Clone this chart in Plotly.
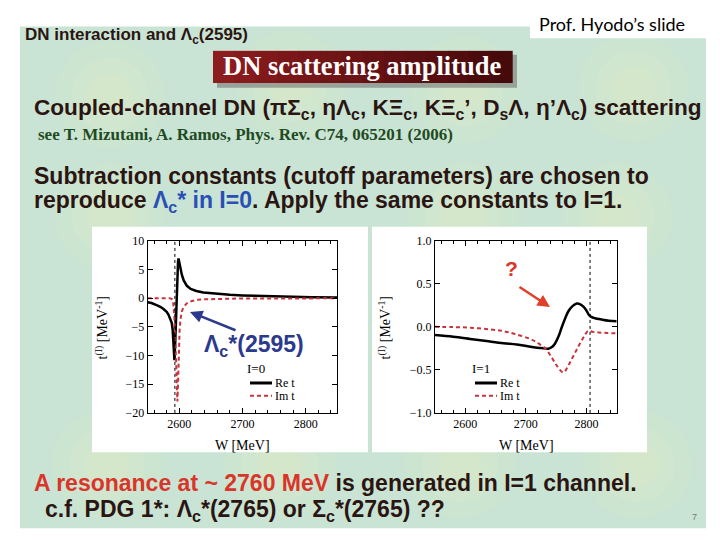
import plotly.graph_objects as go

# I=0 amplitude (left panel)
w0_re = [2550, 2556, 2564, 2570, 2575, 2580, 2583, 2586, 2588, 2589.5, 2590.5, 2591.5, 2592.3,
         2593.5, 2595, 2596.5, 2598, 2598.8, 2600, 2602, 2604, 2607, 2612, 2618, 2627, 2638,
         2650, 2665, 2680, 2700, 2722, 2750, 2780, 2810, 2850]
re_t0 = [-0.7, -0.85, -1.2, -1.5, -1.9, -2.4, -2.9, -3.6, -4.3, -5.5, -7.1, -9.0, -10.8,
         -8.0, -2.0, 3.5, 6.4, 6.9, 6.2, 5.0, 4.1, 3.1, 2.15, 1.6, 1.25, 1.0,
         0.85, 0.7, 0.58, 0.48, 0.4, 0.3, 0.22, 0.16, 0.1]
w0_im = [2550, 2570, 2585, 2589, 2590.5, 2592, 2593.5, 2595, 2596, 2597, 2598, 2599, 2600.5,
         2602, 2604, 2607, 2612, 2620, 2628, 2640, 2660, 2690, 2720, 2780, 2850]
im_t0 = [0, 0, 0, -0.2, -1.0, -3.0, -6.0, -11.0, -15.0, -18.0, -15.0, -9.5, -5.5,
         -3.6, -2.3, -1.5, -0.9, -0.5, -0.3, -0.2, -0.12, -0.08, -0.06, -0.04, -0.03]

# I=1 amplitude (right panel)
w1_re = [2550, 2580, 2608, 2635, 2663, 2685, 2710, 2730, 2737, 2743, 2748, 2754, 2759, 2765,
         2770, 2777, 2784, 2790, 2795, 2800, 2804, 2808, 2814, 2825, 2837, 2850]
re_t1 = [-0.095, -0.115, -0.14, -0.165, -0.19, -0.205, -0.233, -0.25, -0.255, -0.235, -0.196,
         -0.11, -0.01, 0.1, 0.178, 0.24, 0.27, 0.262, 0.234, 0.19, 0.14, 0.115, 0.1, 0.085,
         0.072, 0.066]
w1_im = [2550, 2580, 2608, 2640, 2663, 2682, 2707, 2720, 2732, 2743, 2752, 2762, 2770, 2778,
         2785, 2792, 2798, 2803, 2810, 2820, 2835, 2850]
im_t1 = [0.0, -0.003, -0.01, -0.03, -0.05, -0.084, -0.14, -0.19, -0.25, -0.36, -0.46, -0.53,
         -0.45, -0.345, -0.25, -0.16, -0.09, -0.046, -0.058, -0.065, -0.072, -0.076]

thresholds = [2593, 2806]
x_ticks = [2600, 2700, 2800]

SERIF = "Liberation Serif, Times New Roman, serif"
SANS = "Liberation Sans, Arial, sans-serif"
DARK = "#2b1512"
RED_LINE = "#c9343c"


def X(px):
    return px / 720


def Y(py):
    return 1 - py / 540


fig = go.Figure()

fig.add_trace(go.Scatter(x=w0_re, y=re_t0, mode="lines", line=dict(color="black", width=2.5),
                         xaxis="x", yaxis="y", showlegend=False))
fig.add_trace(go.Scatter(x=w0_im, y=im_t0, mode="lines",
                         line=dict(color=RED_LINE, width=2, dash="4px,3px"),
                         xaxis="x", yaxis="y", showlegend=False))
fig.add_trace(go.Scatter(x=w1_re, y=re_t1, mode="lines", line=dict(color="black", width=2.5, shape="spline"),
                         xaxis="x2", yaxis="y2", showlegend=False))
fig.add_trace(go.Scatter(x=w1_im, y=im_t1, mode="lines",
                         line=dict(color=RED_LINE, width=2, dash="4px,3px", shape="spline"),
                         xaxis="x2", yaxis="y2", showlegend=False))

axis_common = dict(showline=True, linecolor="black", linewidth=1, mirror="allticks",
                   ticks="inside", ticklen=5, tickcolor="black", showgrid=False, zeroline=False,
                   tickfont=dict(family=SERIF, size=12, color="black"))

fig.update_layout(
    width=720, height=540, margin=dict(l=0, r=0, t=0, b=0),
    paper_bgcolor="white", plot_bgcolor="white",
    xaxis=dict(domain=[X(147.7), X(337.3)], range=[2550, 2850], tickvals=x_ticks,
               minor=dict(dtick=20, ticks="inside", ticklen=3, tickcolor="black"),
               anchor="y", **axis_common),
    yaxis=dict(domain=[Y(416.7), Y(240)], range=[-20, 10], dtick=5, anchor="x", **axis_common),
    xaxis2=dict(domain=[X(435), X(616.7)], range=[2550, 2850], tickvals=x_ticks,
                minor=dict(dtick=20, ticks="inside", ticklen=3, tickcolor="black"),
                anchor="y2", **axis_common),
    yaxis2=dict(domain=[Y(416.7), Y(240)], range=[-1, 1], dtick=0.5, tickformat=".1f",
                anchor="x2", **axis_common),
)

shapes = []
# slide background
shapes.append(dict(type="rect", xref="paper", yref="paper", x0=X(20), x1=X(706), y0=Y(535), y1=Y(20),
                   fillcolor="#c9e4d4", line=dict(width=0), layer="below"))
# soft yellow glows
for cx, cy in [(110, 90), (290, 80), (465, 85), (633, 83), (110, 215), (463, 215), (617, 215),
               (107, 470), (280, 470), (460, 470), (637, 470)]:
    for r, op in [(55, 0.08), (38, 0.10), (22, 0.13)]:
        shapes.append(dict(type="circle", xref="paper", yref="paper",
                           x0=X(cx - r), x1=X(cx + r), y0=Y(cy + r), y1=Y(cy - r),
                           fillcolor="#f4f3b8", opacity=op, line=dict(width=0), layer="below"))
# white header box
shapes.append(dict(type="rect", xref="paper", yref="paper", x0=X(530), x1=X(720), y0=Y(32), y1=Y(0),
                   fillcolor="white", line=dict(width=0), layer="below"))
# banner shadow and gradient
shapes.append(dict(type="rect", xref="paper", yref="paper", x0=X(217), x1=X(517), y0=Y(83), y1=Y(49),
                   fillcolor="#6b6b6b", opacity=0.55, line=dict(width=0), layer="below"))
n = 14
for i in range(n):
    t = i / (n - 1)
    r = int(140 + (70 - 140) * t)
    g = int(28 + (10 - 28) * t)
    b = int(30 + (12 - 30) * t)
    x0 = 213 + (512 - 213) * i / n
    x1 = 213 + (512 - 213) * (i + 1) / n
    shapes.append(dict(type="rect", xref="paper", yref="paper", x0=X(x0), x1=X(x1) + 0.001,
                       y0=Y(78), y1=Y(45), fillcolor=f"rgb({r},{g},{b})", line=dict(width=0),
                       layer="below"))
# white boxes behind the two plots
for bx0, bx1 in [(92, 368), (372, 647)]:
    shapes.append(dict(type="rect", xref="paper", yref="paper", x0=X(bx0), x1=X(bx1),
                       y0=Y(457), y1=Y(225.5), fillcolor="white", line=dict(width=0), layer="below"))
# threshold lines
for xr, yr, th in [("x", "y domain", thresholds[0]), ("x2", "y2 domain", thresholds[1])]:
    shapes.append(dict(type="line", xref=xr, yref=yr, x0=th, x1=th, y0=0, y1=1,
                       line=dict(color="black", width=1, dash="dot")))
# legend samples
for lx, ly0, ly1 in [(250, 386, 399), (475, 386, 399)]:
    shapes.append(dict(type="line", xref="paper", yref="paper", x0=X(lx), x1=X(lx + 22),
                       y0=Y(ly0), y1=Y(ly0), line=dict(color="black", width=3)))
    shapes.append(dict(type="line", xref="paper", yref="paper", x0=X(lx), x1=X(lx + 22),
                       y0=Y(ly1), y1=Y(ly1), line=dict(color=RED_LINE, width=2, dash="4px,3px")))
fig.update_layout(shapes=shapes)


def text(x, y, s, size, color=DARK, family=SANS, xanchor="left", bold=True, angle=0):
    fig.add_annotation(x=X(x), y=Y(y), xref="paper", yref="paper", text=f"<b>{s}</b>" if bold else s,
                       showarrow=False, xanchor=xanchor, yanchor="middle", textangle=angle,
                       font=dict(family=family, size=size, color=color))


BLUE = "#2b50b4"
REDT = "#d9352a"
text(23, 30, "DN interaction and Λ<sub>c</sub>(2595)", 17)
text(612, 17, "Prof. Hyodo’s slide", 18, color="black", family="Lato, Open Sans, sans-serif",
     xanchor="center", bold=False)
text(362, 61, "DN scattering amplitude", 26.5, color="white", family=SERIF, xanchor="center")
text(32, 105, "Coupled-channel DN (πΣ<sub>c</sub>, ηΛ<sub>c</sub>, KΞ<sub>c</sub>, KΞ<sub>c</sub>’, "
              "D<sub>s</sub>Λ, η’Λ<sub>c</sub>) scattering", 22.6)
text(36, 131, "see T. Mizutani, A. Ramos, Phys. Rev. C74, 065201 (2006)", 17, color="#1f4a22",
     family=SERIF)
text(32, 174, "Subtraction constants (cutoff parameters) are chosen to", 23)
text(32, 200, f"reproduce <span style='color:{BLUE}'>Λ<sub>c</sub>* in I=0</span>. "
              "Apply the same constants to I=1.", 23)
text(32, 489, f"<span style='color:{REDT}'>A resonance at ~ 2760 MeV</span> is generated in I=1 channel.", 23)
text(43, 517, "c.f. PDG 1*: Λ<sub>c</sub>*(2765) or Σ<sub>c</sub>*(2765) ??", 23)
text(694, 524, "7", 9, color="#777777", xanchor="center", bold=False)

# axis titles
for cx in [242, 526]:
    text(cx, 450, "W [MeV]", 14, color="black", family=SERIF, xanchor="center", bold=False)
for cx in [102, 385]:
    text(cx, 330, "t<sup>(I)</sup> [MeV<sup>-1</sup>]", 14, color="black", family=SERIF,
         xanchor="center", bold=False, angle=-90)

# legends
for lx, lab in [(245, "I=0"), (470, "I=1")]:
    text(lx, 371, lab, 13, color="black", family=SERIF, bold=False)
for lx, ly0, ly1 in [(273, 386, 399), (498, 386, 399)]:
    text(lx, ly0, "Re t", 12, color="black", family=SERIF, bold=False)
    text(lx, ly1, "Im t", 12, color="black", family=SERIF, bold=False)

# Lambda_c*(2595) label and arrow
text(254, 347, "Λ<sub>c</sub>*(2595)", 23, color="#2b3a8c", xanchor="center")
fig.add_annotation(x=X(190), y=Y(313), xref="paper", yref="paper", ax=237 - 190, ay=332 - 313,
                   showarrow=True, arrowhead=2, arrowsize=1, arrowwidth=2.5, arrowcolor="#2b3a8c", text="")
# question mark and arrow
text(511, 268, "?", 21, color=REDT, xanchor="center")
fig.add_annotation(x=X(550), y=Y(308), xref="paper", yref="paper", ax=518 - 550, ay=287 - 308,
                   showarrow=True, arrowhead=2, arrowsize=1, arrowwidth=2.5, arrowcolor="#e0402a", text="")

fig.write_html("out.html", config={"displayModeBar": False},
               post_script="document.body.style.margin='0';")
